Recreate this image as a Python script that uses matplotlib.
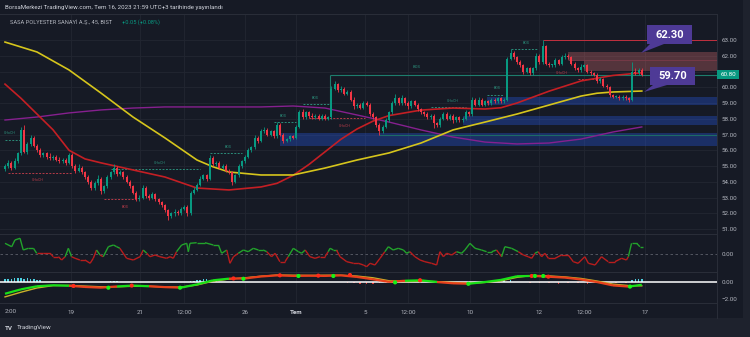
import numpy as np
import matplotlib
matplotlib.use("Agg")
import matplotlib.pyplot as plt
from matplotlib.collections import LineCollection
from matplotlib.patches import Rectangle, Polygon
from matplotlib.lines import Line2D

plt.rcParams['font.family'] = ['Roboto', 'DejaVu Sans']

# ---- SASA 45m bars ----
first_open = 54.8
closes = [
    55.0, 55.2, 54.9, 55.3, 55.8, 57.3, 55.9, 56.4, 56.8, 56.3,
    56.0, 55.7, 55.8, 55.6, 55.5, 55.6, 55.4, 55.3, 55.4, 55.2,
    55.7, 55.0, 54.7, 54.9, 54.6, 54.3, 54.0, 53.6, 53.9, 54.2,
    53.4, 53.7, 54.3, 54.6, 54.9, 54.5, 54.6, 54.3, 54.0, 53.7,
    53.3, 52.9, 53.0, 53.6, 53.1, 53.0, 53.2, 52.9, 52.7, 52.5,
    52.2, 51.8, 52.0, 52.1, 52.0, 52.3, 52.4, 52.0, 53.3, 53.5,
    53.8, 54.2, 54.4, 54.2, 55.5, 55.1, 55.2, 54.9, 55.0, 54.7,
    54.6, 54.0, 54.4, 55.0, 55.3, 55.6, 56.0, 56.2, 56.8, 56.6,
    57.2, 57.3, 57.0, 57.2, 56.9, 57.6, 57.0, 56.6, 56.7, 56.9,
    56.8, 57.5, 58.4, 58.1, 58.4, 58.2, 58.1, 58.2, 58.0, 58.2,
    58.0, 58.1, 59.9, 60.2, 59.8, 59.9, 59.6, 59.7, 59.2, 58.8,
    58.9, 58.7, 59.0, 58.9, 58.3, 58.1, 57.6, 57.2, 57.5, 57.9,
    58.4, 59.0, 59.3, 59.0, 59.3, 59.0, 58.8, 59.1, 58.9, 58.6,
    58.4, 58.3, 58.1, 58.2, 57.7, 57.6, 58.0, 58.3, 58.0, 58.2,
    57.9, 58.1, 57.9, 58.0, 58.4, 58.3, 59.2, 58.9, 59.2, 58.9,
    59.1, 59.0, 59.2, 59.1, 59.3, 59.1, 59.2, 61.8, 62.2, 61.9,
    61.6, 61.4, 61.0, 61.2, 60.9, 61.2, 62.0, 61.6, 62.6, 61.5,
    61.4, 61.4, 61.7, 61.5, 61.9, 62.0, 61.9, 61.5, 61.2, 61.1,
    61.3, 61.4, 61.0, 60.9, 60.8, 60.4, 60.5, 60.1, 60.0, 59.5,
    59.4, 59.4, 59.3, 59.4, 59.3, 59.2, 61.0, 60.9, 61.1, 60.8,
]
wick_up = [
    0.1, 0.15, 0.1, 0.2, 0.1, 0.2, 0.3, 0.1, 0.15, 0.1,
    0.1, 0.15, 0.1, 0.1, 0.2, 0.1, 0.1, 0.15, 0.1, 0.1,
    0.15, 0.1, 0.1, 0.2, 0.1, 0.1, 0.1, 0.1, 0.15, 0.2,
    0.1, 0.1, 0.15, 0.1, 0.2, 0.1, 0.15, 0.1, 0.1, 0.1,
    0.1, 0.1, 0.15, 0.2, 0.1, 0.1, 0.15, 0.1, 0.1, 0.1,
    0.1, 0.1, 0.1, 0.15, 0.1, 0.1, 0.15, 0.1, 0.1, 0.15,
    0.1, 0.15, 0.1, 0.1, 0.2, 0.15, 0.1, 0.1, 0.15, 0.1,
    0.1, 0.1, 0.1, 0.15, 0.1, 0.1, 0.15, 0.1, 0.2, 0.1,
    0.15, 0.2, 0.1, 0.1, 0.1, 0.2, 0.1, 0.1, 0.1, 0.1,
    0.1, 0.1, 0.15, 0.2, 0.1, 0.1, 0.15, 0.1, 0.1, 0.1,
    0.1, 0.1, 0.15, 0.2, 0.1, 0.15, 0.1, 0.1, 0.1, 0.15,
    0.1, 0.1, 0.15, 0.1, 0.1, 0.1, 0.1, 0.1, 0.1, 0.15,
    0.1, 0.1, 0.25, 0.1, 0.2, 0.1, 0.1, 0.1, 0.1, 0.1,
    0.1, 0.1, 0.1, 0.1, 0.1, 0.1, 0.1, 0.15, 0.1, 0.1,
    0.1, 0.1, 0.1, 0.1, 0.15, 0.1, 0.15, 0.1, 0.15, 0.1,
    0.1, 0.1, 0.1, 0.1, 0.1, 0.1, 0.1, 0.1, 0.2, 0.1,
    0.1, 0.1, 0.1, 0.1, 0.1, 0.1, 0.15, 0.1, 0.4, 0.1,
    0.1, 0.1, 0.15, 0.1, 0.15, 0.15, 0.1, 0.1, 0.1, 0.1,
    0.15, 0.1, 0.1, 0.1, 0.1, 0.1, 0.15, 0.1, 0.1, 0.1,
    0.1, 0.1, 0.1, 0.1, 0.1, 0.1, 0.6, 0.2, 0.1, 0.15,
]
wick_dn = [
    0.1, 0.1, 0.15, 0.1, 0.1, 0.1, 0.1, 0.15, 0.1, 0.1,
    0.1, 0.1, 0.1, 0.15, 0.1, 0.1, 0.1, 0.1, 0.1, 0.15,
    0.1, 0.1, 0.15, 0.1, 0.1, 0.1, 0.15, 0.1, 0.1, 0.1,
    0.2, 0.1, 0.1, 0.1, 0.1, 0.15, 0.1, 0.1, 0.1, 0.1,
    0.1, 0.15, 0.1, 0.1, 0.1, 0.15, 0.1, 0.1, 0.1, 0.1,
    0.15, 0.2, 0.1, 0.15, 0.1, 0.1, 0.1, 0.15, 0.1, 0.1,
    0.1, 0.1, 0.1, 0.15, 0.1, 0.1, 0.1, 0.1, 0.1, 0.1,
    0.1, 0.2, 0.1, 0.1, 0.1, 0.1, 0.1, 0.1, 0.1, 0.15,
    0.1, 0.1, 0.1, 0.1, 0.1, 0.1, 0.1, 0.15, 0.1, 0.1,
    0.1, 0.1, 0.1, 0.1, 0.1, 0.15, 0.1, 0.1, 0.1, 0.1,
    0.1, 0.1, 0.1, 0.1, 0.1, 0.1, 0.1, 0.1, 0.1, 0.15,
    0.1, 0.1, 0.1, 0.1, 0.1, 0.1, 0.1, 0.2, 0.1, 0.1,
    0.1, 0.1, 0.1, 0.1, 0.1, 0.1, 0.15, 0.1, 0.1, 0.1,
    0.1, 0.1, 0.1, 0.1, 0.3, 0.1, 0.1, 0.1, 0.1, 0.1,
    0.15, 0.1, 0.1, 0.1, 0.1, 0.1, 0.1, 0.1, 0.1, 0.1,
    0.1, 0.1, 0.1, 0.1, 0.1, 0.1, 0.1, 0.1, 0.1, 0.1,
    0.1, 0.1, 0.15, 0.1, 0.1, 0.1, 0.1, 0.1, 0.1, 0.1,
    0.1, 0.1, 0.1, 0.1, 0.1, 0.1, 0.1, 0.1, 0.1, 0.1,
    0.1, 0.1, 0.1, 0.1, 0.1, 0.15, 0.1, 0.1, 0.1, 0.1,
    0.1, 0.1, 0.1, 0.1, 0.1, 0.15, 0.1, 0.1, 0.1, 0.1,
]

# moving averages (bar index, price)
red_x = [0, 5, 10, 15, 20, 25, 30, 40, 50, 55, 60, 70, 80, 85, 90, 95, 100, 105,
         110, 115, 120, 130, 140, 150, 155, 160, 170, 180, 190, 199]
red_v = [60.2, 59.3, 58.3, 57.3, 56.0, 55.45, 55.2, 54.75, 54.3, 53.95, 53.6, 53.48,
         53.67, 53.9, 54.4, 55.1, 55.9, 56.7, 57.35, 57.85, 58.2, 58.55, 58.68, 58.62,
         58.7, 59.0, 59.75, 60.4, 60.75, 60.92]
yel_x = [0, 10, 20, 30, 40, 50, 60, 65, 70, 80, 90, 100, 110, 120, 130, 140, 150,
         160, 170, 180, 185, 190, 199]
yel_v = [62.87, 62.24, 61.1, 59.63, 58.11, 56.78, 55.38, 54.95, 54.62, 54.43, 54.43,
         54.87, 55.38, 55.83, 56.46, 57.29, 57.79, 58.3, 58.87, 59.44, 59.62, 59.7, 59.76]
pur_x = [0, 10, 20, 30, 40, 50, 60, 70, 80, 90, 100, 110, 120, 130, 140, 150, 160,
         170, 180, 190, 199]
pur_v = [57.92, 58.11, 58.37, 58.56, 58.68, 58.75, 58.75, 58.75, 58.75, 58.81, 58.68,
         58.24, 57.79, 57.29, 56.84, 56.52, 56.4, 56.46, 56.71, 57.16, 57.48]

# zones: (start bar, low, high)
blue_zones = [(150.6, 58.9, 59.35), (143, 57.6, 58.15), (86, 56.3, 57.1)]
pink_zones = [(176, 61.75, 62.25), (181, 61.05, 61.75)]

# market structure marks: (x0, x1, price, label, label x, label price, kind)
structure = [
    (0, 4.7, 56.65, 'CHoCH', 1.6, 57.1, 'g'),
    (1, 21, 54.56, 'CHoCH', 10.3, 54.1, 'r'),
    (31, 41, 52.9, 'BOS', 37.5, 52.4, 'r'),
    (33, 61, 54.81, 'CHoCH', 48.4, 55.2, 'g'),
    (64, 74, 55.83, 'BOS', 69.7, 56.2, 'g'),
    (84, 91, 57.8, 'BOS', 87, 58.17, 'g'),
    (93, 101.6, 58.94, 'BOS', 97, 59.32, 'g'),
    (95, 112.5, 58.05, 'CHoCH', 106, 57.54, 'r'),
    (133, 144, 58.75, 'CHoCH', 140, 59.13, 'g'),
    (150.6, 156, 59.5, 'BOS', 153.7, 59.95, 'g'),
    (158, 166.5, 62.43, 'BOS', 163, 62.8, 'g'),
    (179, 186, 60.52, 'CHoCH', 174, 60.9, 'r'),
]

# oscillator 1
osc1_x = [0, 2.1, 3.1, 4.7, 5.7, 7.3, 8.9, 9.9, 12.0, 14.1, 15.1, 16.7, 17.7, 18.8,
          19.8, 20.8, 21.9, 23.4, 25.0, 26.6, 27.6, 28.6, 29.7, 30.7, 32.3, 33.9,
          34.9, 35.9, 38.0, 40.1, 42.2, 43.2, 44.3, 45.3, 46.9, 48.4, 50.5, 51.6,
          52.6, 53.6, 55.2, 56.8, 57.3, 57.8, 59.9, 62.5, 65.1, 66.7, 67.7, 69.3,
          70.3, 71.4, 72.9, 74.5, 76.0, 77.6, 79.2, 80.7, 81.8, 83.3, 84.4, 85.9,
          87.5, 88.5, 90.1, 91.7, 92.7, 93.8, 95.3, 96.9, 98.4, 100.0, 101.0, 101.6,
          102.6, 103.6, 104.7, 106.8, 108.9, 110.4, 112.0, 113.0, 114.1, 115.6,
          117.2, 118.7, 119.8, 121.3, 122.9, 124.5, 125.5, 126.5, 128.1, 129.7,
          131.2, 133.3, 134.9, 135.9, 137.0, 138.0, 139.6, 141.1, 142.7, 143.7,
          145.3, 146.9, 148.9, 150.5, 152.1, 153.6, 155.2, 156.2, 158.3, 160.4,
          162.0, 163.5, 164.6, 165.6, 166.6, 167.7, 168.7, 169.8, 171.9, 173.9,
          176.0, 177.6, 179.1, 181.2, 182.3, 184.4, 186.4, 188.5, 190.6, 192.7,
          194.2, 194.8, 195.8, 197.4, 198.4, 199.5]
osc1_v = [10.7, 7.3, 14, 15.7, 4, 5.7, 5.7, 0.7, 0.7, 0.7, -2.7, -2.7, -6, -2.7,
          5.7, -2.7, -4.3, -6, -6, -9.3, -4.3, 4, -1, -2.7, 7.3, 9,
          7.3, 5.7, -4.3, -6, -2.7, 4, 0.7, -2.7, -1, -2.7, -4.3, -2.7,
          -4.3, 2.3, 9, 10.7, 2.3, 10.7, 11.3, 11.3, 9, 9, 0.7, 4,
          -9.3, -2.7, 0.7, 4, 2.3, 5.7, 4, 4, 2.3, -2.7, 0.7, -7.7,
          -7.7, -2.7, 5.7, 2.3, 0.7, 4, -2.7, -4.3, -2.7, -2.7, 2.3, 5.7,
          4, 4, -2.7, -7.7, -9.3, -9.3, -11, -12.7, -9.3, -11,
          -4.3, 2.3, 7.3, 4, 5.7, 4, 0.7, 2.3, -2.7, -6,
          -7.7, -9.3, -11, 2.3, -2.7, 0.7, -1, 2.3, 0.7, 4,
          10.7, 5.7, 4, 2.3, 2.3, 4, -2.7, 7.3, 5.7, 2.3,
          -1, -2.7, -4.3, 0.7, 2.3, -2.7, 0.7, -4.3, -4.3, -1,
          -1, -7.7, -9.3, -2.7, -9.3, -11, -2.7, -7.7, -7.7, -4.3,
          -6, -2.7, 10.7, 10.7, 7.3, 7.3]

# oscillator 2 (fast / slow wave)
wt_x = [0, 5, 10, 15, 20, 25, 30, 35, 40, 45, 50, 55, 60, 65, 70, 75, 80, 85, 90,
        95, 100, 105, 110, 115, 120, 125, 130, 135, 140, 145, 150, 155, 160, 165,
        170, 175, 180, 185, 190, 195, 199]
wt_fast = [-1.38, -0.86, -0.5, -0.38, -0.44, -0.58, -0.66, -0.52, -0.42, -0.5, -0.6,
           -0.66, -0.28, 0.2, 0.4, 0.42, 0.65, 0.78, 0.72, 0.74, 0.72, 0.78, 0.6,
           0.32, 0.02, 0.15, 0.2, 0.0, -0.15, -0.2, 0.0, 0.25, 0.68, 0.72, 0.62,
           0.52, 0.3, 0.0, -0.4, -0.54, -0.32]
wt_slow = [-1.75, -1.2, -0.7, -0.42, -0.4, -0.48, -0.56, -0.56, -0.5, -0.5, -0.58,
           -0.6, -0.35, 0.1, 0.35, 0.5, 0.68, 0.82, 0.8, 0.78, 0.8, 0.8, 0.7, 0.5,
           0.15, 0.05, 0.1, 0.05, -0.05, -0.15, -0.05, 0.15, 0.55, 0.78, 0.72, 0.6,
           0.42, 0.12, -0.25, -0.42, -0.45]
dot_x = [21.4, 39.6, 71.4, 85.9, 97.9, 107.8, 129.7, 164.6, 169.8,
         32.3, 54.7, 74.5, 91.7, 102.6, 121.9, 144.8, 165.6, 168.2, 195.3]
dot_v = [-0.46, -0.42, 0.42, 0.79, 0.75, 0.83, 0.21, 0.71, 0.63,
         -0.67, -0.67, 0.38, 0.71, 0.71, -0.04, -0.21, 0.71, 0.71, -0.54]
dot_up = [False] * 9 + [True] * 10
hist_x = [0, 1, 2, 3, 4, 5, 6, 7, 8, 9, 10, 11, 33, 34, 35, 58, 59, 60, 61, 62, 63,
          64, 65, 66, 74, 76, 107, 109, 111, 113, 115, 117, 119, 152, 154, 156, 158,
          164, 167, 170, 173, 176, 179, 182, 185, 188, 191, 194, 196, 197, 198, 199]
hist_v = [0.3, 0.35, 0.4, 0.45, 0.5, 0.45, 0.4, 0.45, 0.35, 0.3, 0.25, 0.2, 0.1, 0.15,
          0.1, 0.1, 0.15, 0.2, 0.25, 0.3, 0.3, 0.25, 0.2, 0.15, 0.05, 0.05, -0.1,
          -0.15, -0.2, -0.25, -0.2, -0.15, -0.1, 0.1, 0.2, 0.3, 0.2, -0.1, -0.15,
          -0.1, -0.2, -0.15, -0.1, -0.2, -0.15, -0.2, -0.1, -0.15, 0.2, 0.3, 0.4, 0.35]

time_pos = [20.5, 42.2, 56, 75, 91, 112.5, 126, 145.3, 167, 181, 200]
time_lbl = ['19', '21', '12:00', '26', 'Tem', '5', '12:00', '10', '12', '12:00', '17']
price_ticks = list(range(51, 64))
last_price = 60.80

# ---- style ----
BG = '#161a25'
PANEL = '#1e222d'
GRID = '#222631'
TXT = '#b2b5be'
GREEN = '#089981'
RED = '#f23645'
W, H = 750, 337


def rect(x0, y0, x1, y1):
    return [x0 / W, 1 - y1 / H, (x1 - x0) / W, (y1 - y0) / H]


def fx(x):
    return x / W


def fy(y):
    return 1 - y / H


fig = plt.figure(figsize=(7.5, 3.37), dpi=100, facecolor=BG)
fig.add_artist(Rectangle((0, 0), 1, fy(318), transform=fig.transFigure, fc=PANEL, ec='none', zorder=0))
fig.add_artist(Rectangle((fx(743), 0), 1, 1, transform=fig.transFigure, fc=PANEL, ec='none', zorder=0))

ax = fig.add_axes(rect(0, 14, 717, 234))
ax2 = fig.add_axes(rect(0, 234, 717, 272), sharex=ax)
ax3 = fig.add_axes(rect(0, 272, 717, 303), sharex=ax)
XR = 222.5
for a in (ax, ax2, ax3):
    a.set_facecolor(BG)
    for s in a.spines.values():
        s.set_visible(False)
    a.set_xticks(time_pos)
    a.grid(axis='x', color=GRID, lw=0.6)
    a.set_axisbelow(True)
    a.yaxis.tick_right()
    a.tick_params(length=0, labelsize=4.5, colors=TXT, pad=3)
    a.tick_params(axis='x', labelbottom=False)
ax.set_xlim(-1.5625, XR)

# ---- main pane ----
ax.set_ylim(50.683, 64.651)
ax.set_yticks(price_ticks)
# 61.00 sits under the last-price tag
ax.set_yticklabels(['' if p == 61 else f'{p:.2f}' for p in price_ticks])
ax.grid(axis='y', color=GRID, lw=0.6)

for x0, lo, hi in blue_zones:
    ax.add_patch(Rectangle((x0, lo), XR - x0, hi - lo, fc='#2962ff', alpha=0.3, ec='none', zorder=1))
for x0, lo, hi in pink_zones:
    ax.add_patch(Rectangle((x0, lo), XR - x0, hi - lo, fc='#e57373', alpha=0.3, ec='none', zorder=1))
ax.hlines(61.75, 176, XR, color='#7a3a48', lw=0.6, zorder=1)
ax.hlines(63.0, 168, XR, color='#c2303f', lw=0.7, zorder=2)
ax.hlines(57.0, 117, XR, color='#1c6b66', lw=0.8, zorder=2)
ax.hlines(60.8, 101.6, XR, color='#1d7d6c', lw=0.8, zorder=2)
ax.vlines(101.6, 59.0, 60.8, color='#1d7d6c', lw=0.8, zorder=2)
ax.text(128.75, 61.3, 'BOS', fontsize=3, color='#2b8c79', ha='center', va='center')

for x0, x1, p, lab, lx, ly, kind in structure:
    col = '#2b8c79' if kind == 'g' else '#b53a48'
    ax.hlines(p, x0, x1, color=col, lw=0.7, linestyles=(0, (2, 1.5)), zorder=2)
    ax.text(lx, ly, lab, fontsize=2.6, color=col, ha='center', va='center')

ax.plot(pur_x, pur_v, color='#86208f', lw=1.0, zorder=3)
ax.plot(red_x, red_v, color='#c41f24', lw=1.2, zorder=3)
ax.plot(yel_x, yel_v, color='#d6c51c', lw=1.2, zorder=3)

c = np.array(closes)
o = np.r_[first_open, c[:-1]]
xs = np.arange(len(c))
cols = np.where(c >= o, GREEN, RED)
highs = np.maximum(o, c) + np.array(wick_up)
lows = np.minimum(o, c) - np.array(wick_dn)
ax.vlines(xs, lows, highs, colors=cols, lw=0.6, zorder=4)
ax.bar(xs, np.maximum(np.abs(c - o), 0.05), bottom=np.minimum(o, c), width=0.62,
       color=cols, lw=0, zorder=5)

# ---- oscillator 1 ----
ax2.set_ylim(-18, 20)
ax2.set_yticks([0])
ax2.set_yticklabels(['0.00'])
ax2.axhline(0, color='#5d606b', lw=0.6, ls=(0, (3, 3)))
pts = np.column_stack([osc1_x, osc1_v])
segs = np.stack([pts[:-1], pts[1:]], axis=1)
mid = (np.array(osc1_v[:-1]) + np.array(osc1_v[1:])) / 2
ax2.add_collection(LineCollection(segs, colors=np.where(mid > 1.0, '#22a32b', '#b81d1d'), lw=1.0))

# ---- oscillator 2 ----
ax3.set_ylim(-2.47, 1.18)
ax3.set_yticks([0, -2])
ax3.set_yticklabels(['0.00', '\u22122.00'])
hv = np.array(hist_v)
ax3.bar(hist_x, hv, width=0.5, color=np.where(hv > 0, '#4dd0e1', '#e53935'), lw=0, zorder=2)
ax3.axhline(0, color='white', lw=1.1, zorder=3)
ax3.plot(wt_x, wt_slow, color='#c9b22a', lw=1.0, zorder=4)
pts = np.column_stack([wt_x, wt_fast])
segs = np.stack([pts[:-1], pts[1:]], axis=1)
f = np.array(wt_fast)
s = np.array(wt_slow)
above = (f[:-1] + f[1:]) >= (s[:-1] + s[1:])
ax3.add_collection(LineCollection(segs, colors=np.where(above, '#18e018', '#e8401c'), lw=1.6, zorder=5))
ax3.scatter(dot_x, dot_v, s=9, c=np.where(dot_up, '#16f216', '#ff2a1a'), lw=0, zorder=6)
ax3.tick_params(axis='x', labelbottom=True, pad=5)
ax3.set_xticklabels(time_lbl)
for t in ax3.get_xticklabels():
    if t.get_text() == 'Tem':
        t.set_fontweight('bold')
        t.set_color('#d1d4dc')
# the first "12:00" tick is cut by the left edge; only "2:00" shows
fig.text(fx(5), fy(311.5), '2:00', fontsize=4.5, color=TXT, va='center')

# ---- separators ----
for y in (14, 234, 272, 303):
    fig.add_artist(Line2D([0, fx(717)], [fy(y), fy(y)], color='#2a2e39', lw=0.7))
fig.add_artist(Line2D([fx(717), fx(717)], [fy(14), fy(318)], color='#2a2e39', lw=0.7))

# ---- callouts ----
for (bx0, by0, bx1, by1, tail, label) in [
        (647, 25, 692, 44, [(650, 44), (664, 44), (641, 53)], '62.30'),
        (650, 67, 695, 85, [(653, 85), (667, 85), (644, 92)], '59.70')]:
    fig.add_artist(Rectangle((fx(bx0), fy(by1)), (bx1 - bx0) / W, (by1 - by0) / H,
                             transform=fig.transFigure, fc='#4e3a96', ec='none', zorder=10))
    fig.add_artist(Polygon([(fx(a), fy(b)) for a, b in tail], closed=True,
                           transform=fig.transFigure, fc='#4e3a96', ec='none', zorder=10))
    fig.text(fx((bx0 + bx1) / 2), fy((by0 + by1) / 2), label, color='white', fontsize=8,
             fontweight='bold', ha='center', va='center', zorder=11)

# last price tag
ty = 40 + (63 - last_price) * 15.75
fig.add_artist(Rectangle((fx(717), fy(ty + 4.5)), 22 / W, 9 / H, transform=fig.transFigure,
                         fc=GREEN, ec='none', zorder=10))
fig.text(fx(728), fy(ty), f'{last_price:.2f}', color='white', fontsize=4.5,
         ha='center', va='center', zorder=11)

# ---- header / footer text ----
fig.text(fx(5), fy(7), 'BorsaMerkezi TradingView.com, Tem 16, 2023 21:59 UTC+3 tarihinde yayınlandı',
         fontsize=4.45, color='#d1d4dc', va='center')
fig.text(fx(10), fy(22), 'SASA POLYESTER SANAYİ A.Ş., 45, BIST', fontsize=4.1, color=TXT, va='center')
fig.text(fx(122), fy(22), '+0.05 (+0.08%)', fontsize=4.1, color=GREEN, va='center')
fig.text(fx(5), fy(328), 'TV', fontsize=4.5, color='#d1d4dc', fontweight='bold', va='center')
fig.text(fx(17), fy(328), 'TradingView', fontsize=4.5, color='#d1d4dc', va='center')

fig.savefig('out.png', dpi=100, facecolor=fig.get_facecolor())
